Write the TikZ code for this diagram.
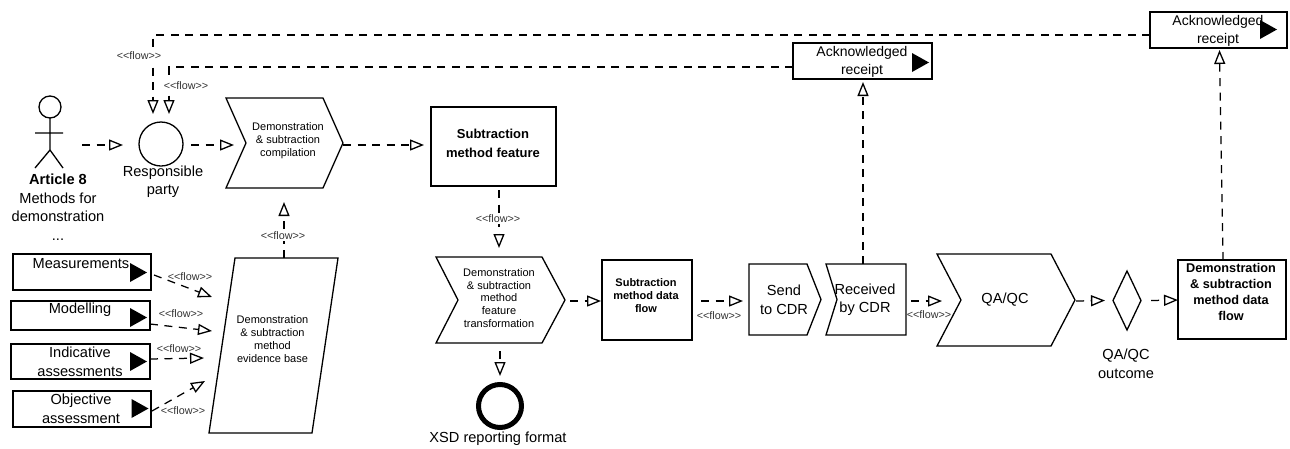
\documentclass[tikz,border=0pt]{standalone}
\usepackage{fontspec}
\setmainfont{Liberation Sans}
\usetikzlibrary{arrows.meta,calc}
\newcommand\flowtxt{<{}<flow>{}>}
\newcommand\fsz[2]{\fontsize{#1}{#2}\selectfont}
\tikzset{
  shapebox/.style={inner sep=0pt,outer sep=0pt,minimum width=#1},
  outline/.style={line width=1.3pt,line join=miter},
  heavy/.style={draw,line width=1.5pt},
  flow/.style={line width=1.25pt,dash pattern=on 8pt off 6.5pt,-{Triangle[open,length=14pt,width=11pt,fill=white,line width=1.3pt]}},
  flowlabel/.style={font=\fsz{10.8}{13},text=black!80,inner sep=0.5pt},
  flowmask/.style={flowlabel,fill=white,inner sep=1.5pt},
  big/.style={font=\fsz{14.6}{18.5},align=center,inner sep=0pt},
  small/.style={font=\fsz{11}{12.9},align=center,inner sep=0pt},
  boldsmall/.style={font=\fsz{11}{12.7}\bfseries,align=center,inner sep=0pt},
  boldmid/.style={font=\fsz{12.7}{15.9}\bfseries,align=center,inner sep=0pt},
  boldbig/.style={font=\fsz{13}{19}\bfseries,align=center,inner sep=0pt}
}
\newcommand\chevshape[3]{%
  \draw[outline] (#1.north west) -- ($(#1.north east)+(-#3,0)$) -- (#1.east) -- ($(#1.south east)+(-#3,0)$) -- (#1.south west) -- ($(#1.west)+(#2,0)$) -- cycle;}
\newcommand\ptri[3]{\fill (#1,#2) -- (#1+17,{(#2+#3)/2}) -- (#1,#3) -- cycle;}
\begin{document}
\begin{tikzpicture}[x=1pt,y=-1pt]
\useasboundingbox (0,0) rectangle (1290,448);
% --- geometry nodes
\node[shapebox=30pt,minimum height=72pt] (actor) at (49,132) {};
\node[circle,draw,line width=1.3pt,inner sep=0pt,outer sep=0pt,minimum size=44pt] (resp) at (161,144) {};
\node[shapebox=117pt,minimum height=90pt] (chevA) at (284.5,143) {};
\node[heavy,shapebox=125pt,minimum height=79pt] (feature) at (493.5,146.5) {};
\node[shapebox=129pt,minimum height=175pt] (para) at (273.5,345.5) {};
\node[heavy,shapebox=138pt,minimum height=36pt] (meas) at (82,272) {};
\node[heavy,shapebox=139pt,minimum height=29pt] (model) at (80.5,315.5) {};
\node[heavy,shapebox=139pt,minimum height=35pt] (indic) at (80.5,361.5) {};
\node[heavy,shapebox=138pt,minimum height=36pt] (objec) at (82,409) {};
\node[shapebox=129pt,minimum height=86pt] (chevB) at (500.5,300) {};
\node[circle,draw,line width=5pt,inner sep=0pt,outer sep=0pt,minimum size=43pt] (xsd) at (500,406) {};
\node[heavy,shapebox=90pt,minimum height=80pt] (smdf) at (647,300) {};
\node[shapebox=72pt,minimum height=71pt] (send) at (785,299.5) {};
\node[shapebox=80pt,minimum height=71pt] (recv) at (866,299.5) {};
\node[shapebox=138pt,minimum height=92pt] (qa) at (1006,300) {};
\node[shapebox=28pt,minimum height=59pt] (dia) at (1127,300.5) {};
\node[heavy,shapebox=108pt,minimum height=79pt] (rbox) at (1232,299.5) {};
\node[heavy,shapebox=139pt,minimum height=36pt] (ackA) at (862.5,61) {};
\node[heavy,shapebox=137pt,minimum height=36pt] (ackB) at (1218.5,30) {};
% --- outlines
\draw[outline] (50,107) circle[radius=11];
\draw[outline] (50,118) -- (50,150) (35,133) -- (63,133) (35,168) -- (50,150) -- (63,168);
\chevshape{chevA}{20}{20}
\chevshape{chevB}{22}{23}
\chevshape{qa}{24}{24}
\draw[outline] ($(para.north west)+(26,0)$) -- (para.north east) -- ($(para.south east)+(-26,0)$) -- (para.south west) -- cycle;
\draw[outline] (send.north west) -- ($(send.north east)+(-14,0)$) -- (send.east) -- ($(send.south east)+(-14,0)$) -- (send.south west) -- cycle;
\draw[outline] (recv.north west) -- (recv.north east) -- (recv.south east) -- (recv.south west) -- ($(recv.west)+(11,0)$) -- cycle;
\draw[outline] (dia.north) -- (dia.east) -- (dia.south) -- (dia.west) -- cycle;
% --- marker triangles
\ptri{130}{263}{282}
\ptri{130}{308}{327}
\ptri{130}{352}{371}
\ptri{131.5}{399}{418}
\ptri{912}{53}{72}
\ptri{1260}{20}{39}
% --- connectors
\draw[flow] ($(actor.east)+(18,13)$) -- ($(resp.west)+(-16,1)$);
\draw[flow] ($(resp.east)+(8,1)$) -- ($(chevA.west)+(8,2)$);
\draw[flow] ($(chevA.east)+(0,2)$) -- ($(feature.west)+(-7,-1.5)$);
\draw[flow] ($(ackB.west)+(0,5)$) -| ($(resp.north)+(-8,-8)$);
\draw[flow] ($(ackA.west)+(0,6)$) -| ($(resp.north)+(8,-8)$);
\draw[flow] ($(para.north)+(10.5,0)$) -- ($(chevA.south)+(-0.5,14)$);
\draw[flow] ($(meas.east)+(3,3)$) -- ($(para.west)+(3,-48.5)$);
\draw[flow] ($(model.east)+(0,8.5)$) -- ($(para.west)+(3,-14.5)$);
\draw[flow] ($(indic.east)+(0,-2.5)$) -- ($(para.west)+(-5,12.5)$);
\draw[flow] ($(objec.east)+(1,2)$) -- ($(para.west)+(-4,35.5)$);
\draw[flow] ($(feature.south)+(5.5,4)$) -- ($(chevB.north)+(-1.5,-9)$);
\draw[flow] ($(chevB.south)+(-0.5,8)$) -- ($(xsd.north)+(0,-8.5)$);
\draw[flow] ($(chevB.east)+(5,1)$) -- ($(smdf.west)+(-1,1)$);
\draw[flow] ($(smdf.east)+(9,1)$) -- ($(send.west)+(-6,1.5)$);
\draw[flow] ($(recv.east)+(5,1.5)$) -- ($(qa.west)+(5,1)$);
\draw[flow] ($(qa.east)+(1,1)$) -- ($(dia.west)+(-8,0)$);
\draw[flow] ($(dia.east)+(10,0)$) -- ($(rbox.west)+(0,0.5)$);
\draw[flow] ($(recv.north)+(-3,0)$) -- ($(ackA.south)+(0.5,3)$);
\draw[flow] ($(rbox.north)+(-9,0)$) -- ($(ackB.south)+(1,2)$);
% --- flow labels
\node[flowmask] (fl1) at (139,56) {\flowtxt};
\node[flowmask] (fl2) at (186,86) {\flowtxt};
\node[flowmask] (fl3) at (283,236) {\flowtxt};
\node[flowlabel] (fl4) at (190,277) {\flowtxt};
\node[flowlabel] (fl5) at (181,314) {\flowtxt};
\node[flowlabel] (fl6) at (179,349) {\flowtxt};
\node[flowlabel] (fl7) at (183,411) {\flowtxt};
\node[flowmask] (fl8) at (498,219) {\flowtxt};
\node[flowlabel] (fl9) at (719,316) {\flowtxt};
\node[flowlabel] (fl10) at (929,315) {\flowtxt};
% --- texts
\node[big] (tActor) at (58,207) {\textbf{Article 8}\\Methods for\\demonstration\\...};
\node[big] (tResp) at (163,181.5) {Responsible\\party};
\node[small] (tChevA) at (288,141) {Demonstration\\\&\ subtraction\\compilation};
\node[boldbig] (tFeature) at (493,143.5) {Subtraction\\method feature};
\node[small] (tPara) at (272.5,339) {Demonstration\\\&\ subtraction\\method\\evidence base};
\node[big] (tMeas) at (81,264) {Measurements};
\node[big] (tModel) at (80,310) {Modelling};
\node[big] (tIndic) at (80,362) {Indicative\\assessments};
\node[big] (tObjec) at (81,409) {Objective\\assessment};
\node[small] (tChevB) at (499,298) {Demonstration\\\&\ subtraction\\method\\feature\\transformation};
\node[big] (tXsd) at (498,439) {XSD reporting format};
\node[boldsmall] (tSmdf) at (646,295.5) {Subtraction\\method data\\flow};
\node[big] (tSend) at (784,300) {Send\\to CDR};
\node[big] (tRecv) at (865,299.5) {Received\\by CDR};
\node[big] (tQa) at (1005,300) {QA/QC};
\node[big] (tOut) at (1126,364) {QA/QC\\outcome};
\node[boldmid] (tRbox) at (1231,292) {Demonstration\\\&\ subtraction\\method data\\flow};
\node[font=\fsz{14}{18},align=center,inner sep=0pt] (tAckA) at (862,62) {Acknowledged\\receipt};
\node[font=\fsz{14}{18},align=center,inner sep=0pt] (tAckB) at (1218,30.5) {Acknowledged\\receipt};
\end{tikzpicture}
\end{document}
